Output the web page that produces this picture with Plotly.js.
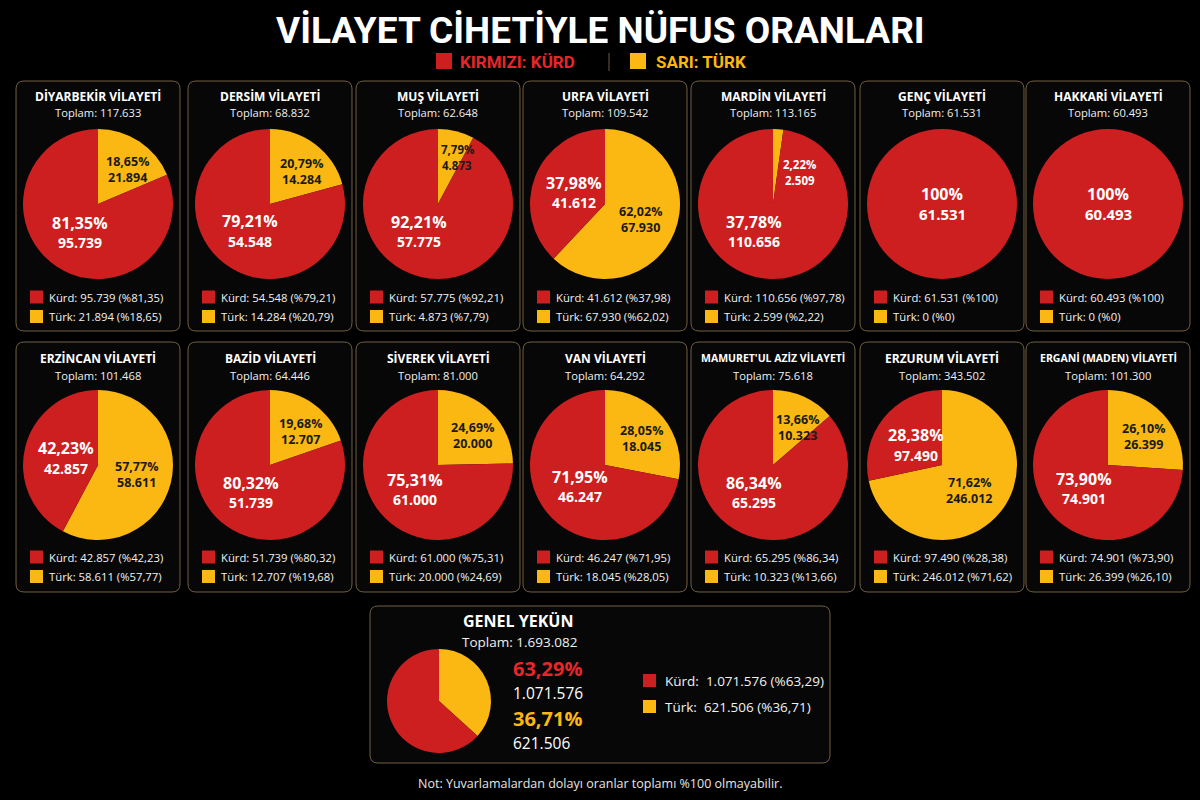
<!DOCTYPE html>
<html><head><meta charset="utf-8">
<script src="https://cdn.plot.ly/plotly-3.0.1.min.js"></script>
<style>html,body{margin:0;padding:0;background:#000;}#chart{width:1200px;height:800px;}</style>
</head><body><div id="chart"></div>
<script>
// ---- DATA ----
const provinces = ["DİYARBEKİR VİLAYETİ","DERSİM VİLAYETİ","MUŞ VİLAYETİ","URFA VİLAYETİ","MARDİN VİLAYETİ","GENÇ VİLAYETİ","HAKKARİ VİLAYETİ",
  "ERZİNCAN VİLAYETİ","BAZİD VİLAYETİ","SİVEREK VİLAYETİ","VAN VİLAYETİ","MAMURET'UL AZİZ VİLAYETİ","ERZURUM VİLAYETİ","ERGANİ (MADEN) VİLAYETİ"];
const kurd = [95739,54548,57775,41612,110656,61531,60493,42857,51739,61000,46247,65295,97490,74901];
const turk = [21894,14284,4873,67930,2509,0,0,58611,12707,20000,18045,10323,246012,26399];
const kurdPct = ["81,35","79,21","92,21","37,98","97,78","100","100","42,23","80,32","75,31","71,95","86,34","28,38","73,90"];
const turkPct = ["18,65","20,79","7,79","62,02","2,22","0","0","57,77","19,68","24,69","28,05","13,66","71,62","26,10"];
// values as printed inside the pies / in the legends (the reference prints them slightly differently for Mardin)
const kurdPctPie = ["81,35","79,21","92,21","37,98","37,78","100","100","42,23","80,32","75,31","71,95","86,34","28,38","73,90"];
const turkLegend = [21894,14284,4873,67930,2599,0,0,58611,12707,20000,18045,10323,246012,26399];
const groups = ["Kürd","Türk"];
const genelKurd = 1071576, genelTurk = 621506;
const genelKurdPct = "63,29", genelTurkPct = "36,71";
const mainTitle = "VİLAYET CİHETİYLE NÜFUS ORANLARI";
const note = "Not: Yuvarlamalardan dolayı oranlar toplamı %100 olmayabilir.";

// ---- STYLE / LAYOUT ----
const W = 1200, H = 800;
const RED = "#cd1f1f", YEL = "#fbb812";
const px = x => x / W, py = y => 1 - y / H;
const fmt = n => String(n).replace(/\B(?=(\d{3})+(?!\d))/g, ".");
const FONT = "Open Sans, Noto Sans, sans-serif";
const cardCx = [98, 270, 438, 605, 773, 942, 1108];

const traces = [], shapes = [], ann = [];

function roundRect(x0, y0, x1, y1, rr, line, fill) {
  const X = px, Y = py;
  const p = `M${X(x0+rr)},${Y(y0)} L${X(x1-rr)},${Y(y0)} Q${X(x1)},${Y(y0)} ${X(x1)},${Y(y0+rr)} L${X(x1)},${Y(y1-rr)} Q${X(x1)},${Y(y1)} ${X(x1-rr)},${Y(y1)} L${X(x0+rr)},${Y(y1)} Q${X(x0)},${Y(y1)} ${X(x0)},${Y(y1-rr)} L${X(x0)},${Y(y0+rr)} Q${X(x0)},${Y(y0)} ${X(x0+rr)},${Y(y0)} Z`;
  shapes.push({type:"path", path:p, xref:"paper", yref:"paper", line:{color:line, width:1}, fillcolor:fill, layer:"below"});
}
function txt(x, y, t, size, color, opts) {
  opts = opts || {};
  ann.push({x:px(x), y:py(y), xref:"paper", yref:"paper", text:t, showarrow:false,
    xanchor:opts.xa || "center", yanchor:"middle",
    font:{family:opts.family || FONT, size:size, color:color, weight:opts.bold ? 700 : 400}});
}
function square(x, y, s, color) {
  shapes.push({type:"rect", xref:"paper", yref:"paper", x0:px(x), x1:px(x+s), y0:py(y+s), y1:py(y), fillcolor:color, line:{width:0}});
}
function pie(cx, cy, r, vals) {
  traces.push({type:"pie", values:vals, labels:[groups[1], groups[0]], marker:{colors:[YEL, RED], line:{width:0}},
    sort:false, direction:"clockwise", rotation:0, textinfo:"none", hoverinfo:"skip", showlegend:false,
    domain:{x:[px(cx-r), px(cx+r)], y:[py(cy+r), py(cy-r)]}});
}

// header
txt(600, 31, mainTitle, 37, "#ffffff", {bold:true, family:"Roboto, Open Sans, sans-serif"});
square(436, 53, 16, RED);
txt(458, 62, "KIRMIZI: KÜRD", 17, "#e5272b", {bold:true, xa:"left", family:"Roboto, sans-serif"});
shapes.push({type:"line", xref:"paper", yref:"paper", x0:px(609), x1:px(609), y0:py(53), y1:py(71), line:{color:"#6b5a40", width:1}});
square(630, 53, 16, YEL);
txt(654, 62, "SARI: TÜRK", 17, YEL, {bold:true, xa:"left", family:"Roboto, sans-serif"});

// province cards
const R = 75;
const rad = d => d * Math.PI / 180;
provinces.forEach((name, i) => {
  const row = i < 7 ? 0 : 1, col = i % 7;
  const dy = row * 261;
  const cx = cardCx[col];
  roundRect(cx - 82, 81 + dy, cx + 82, 331 + dy, 8, "rgba(150,125,85,0.75)", "#070707");
  txt(cx, 96 + dy + row, name, name.length > 20 ? 10.5 : 12, "#ffffff", {bold:true});
  txt(cx, 112 + dy + row * 2, "Toplam: " + fmt(kurd[i] + turk[i]), 11.2, "#f0f0f0");
  const cy = 204 + dy;
  pie(cx, cy, R, [turk[i], kurd[i]]);
  const tot = kurd[i] + turk[i];
  const tf = turk[i] / tot;
  if (turk[i] === 0) {
    txt(cx, cy - 10, kurdPctPie[i] + "%", 16, "#ffffff", {bold:true});
    txt(cx, cy + 10, fmt(kurd[i]), 15, "#ffffff", {bold:true});
  } else {
    // kurd label
    let ka = tf * 360 + (1 - tf) * 180;
    if (ka < 212) ka = 216;
    const kf = 0.44 * R;
    const kx = cx + kf * Math.sin(rad(ka)), ky = cy - kf * Math.cos(rad(ka));
    txt(kx, ky - 9, kurdPctPie[i] + "%", 16, "#ffffff", {bold:true});
    txt(kx, ky + 11, fmt(kurd[i]), 14, "#ffffff", {bold:true});
    // turk label
    let ta = tf * 180, tfr = tf < 0.1 ? 0.64 : 0.55, tcol = "#1a1a1a", tsz = tf < 0.1 ? 11.5 : 12.5;
    let tx, ty;
    if (tf < 0.04) {
      ta = 40; tfr = 0.55; tcol = "#ffffff";
      tx = cx + tfr * R * Math.sin(rad(ta)); ty = cy - tfr * R * Math.cos(rad(ta));
    } else {
      tx = cx + tfr * R * Math.sin(rad(ta)) + 8 * Math.cos(rad(ta));
      ty = cy - tfr * R * Math.cos(rad(ta));
    }
    txt(tx, ty - 8, turkPct[i] + "%", tsz, tcol, {bold:true});
    txt(tx, ty + 8, fmt(turk[i]), tsz, tcol, {bold:true});
  }
  // legend
  const ly = 297 + dy - row;
  square(cx - 68, ly - 6.5, 13, RED);
  txt(cx - 51, ly, groups[0] + ": " + fmt(kurd[i]) + " (%" + kurdPct[i] + ")", 11.3, "#f2f2f2", {xa:"left"});
  square(cx - 68, ly + 13, 13, YEL);
  txt(cx - 51, ly + 19.5, groups[1] + ": " + fmt(turkLegend[i]) + " (%" + turkPct[i] + ")", 11.3, "#f2f2f2", {xa:"left"});
});

// general card
roundRect(370, 606, 830, 763, 8, "rgba(150,125,85,0.75)", "#070707");
txt(518, 621, "GENEL YEKÜN", 16, "#ffffff", {bold:true});
txt(519, 642, "Toplam: " + fmt(genelKurd + genelTurk), 13.5, "#f0f0f0");
pie(439, 701, 52, [genelTurk, genelKurd]);
txt(511, 668, genelKurdPct + "%", 20, "#e5272b", {bold:true, xa:"left"});
txt(511, 693, fmt(genelKurd), 15.5, "#ffffff", {xa:"left"});
txt(511, 718, genelTurkPct + "%", 20, YEL, {bold:true, xa:"left"});
txt(511, 743, fmt(genelTurk), 15.5, "#ffffff", {xa:"left"});
square(643, 674, 13, RED);
txt(663, 681, groups[0] + ":  " + fmt(genelKurd) + " (%" + genelKurdPct + ")", 13.5, "#f2f2f2", {xa:"left"});
square(643, 700, 13, YEL);
txt(663, 707, groups[1] + ":  " + fmt(genelTurk) + " (%" + genelTurkPct + ")", 13.5, "#f2f2f2", {xa:"left"});

txt(600, 783, note, 12.5, "#e6e6e6");

Plotly.newPlot("chart", traces, {
  width: W, height: H, margin:{l:0, r:0, t:0, b:0},
  paper_bgcolor:"#000000", plot_bgcolor:"#000000",
  shapes: shapes, annotations: ann, showlegend:false
}, {displayModeBar:false, staticPlot:true});
</script></body></html>
